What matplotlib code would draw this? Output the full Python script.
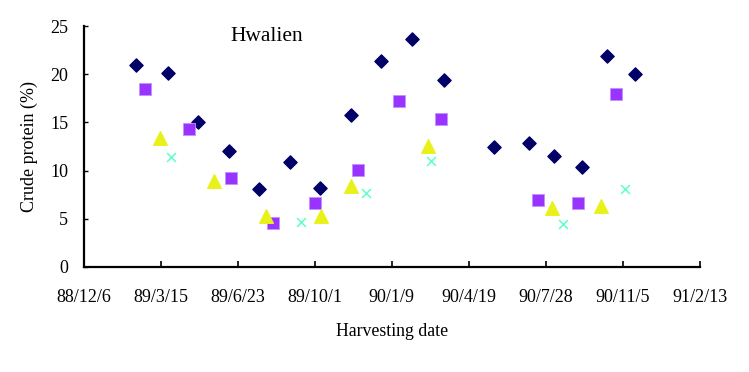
"""Crude protein of forage at Hwalien across harvesting dates (ROC calendar)."""
import matplotlib
matplotlib.use("Agg"); import matplotlib.pyplot as plt

# x = days after 88/12/6
tick_days = [0, 99, 198, 297, 396, 495, 594, 693, 792]
tick_labels = ['88/12/6', '89/3/15', '89/6/23', '89/10/1', '90/1/9',
               '90/4/19', '90/7/28', '90/11/5', '91/2/13']

dia_x = [68, 108, 147, 187, 225, 265, 304, 343, 382, 422, 463, 527, 572, 605, 640, 673, 709]
dia_y = [21.0, 20.1, 15.0, 12.0, 8.1, 10.9, 8.2, 15.8, 21.4, 23.7, 19.4, 12.4, 12.9, 11.5, 10.4, 21.9, 20.0]

sq_x = [79, 135, 190, 243, 298, 352, 405, 459, 584, 635, 684]
sq_y = [18.5, 14.3, 9.2, 4.6, 6.6, 10.1, 17.2, 15.4, 6.9, 6.6, 18.0]

tri_x = [98, 167, 235, 305, 343, 442, 602, 665]
tri_y = [13.4, 8.9, 5.3, 5.3, 8.4, 12.6, 6.1, 6.3]

crs_x = [112, 279, 363, 446, 616, 695]
crs_y = [11.4, 4.7, 7.7, 11.0, 4.5, 8.1]

plt.rcParams['font.family'] = ['Liberation Serif', 'DejaVu Serif']
fig = plt.figure(figsize=(7.49, 3.72), dpi=100)
ax = fig.add_axes([0.1115, 0.2823, 0.8231, 0.6477])

ax.scatter(dia_x, dia_y, marker='D', s=45, color='#000066', zorder=3)
ax.scatter(sq_x, sq_y, marker='s', s=85, color='#9933FF', edgecolor='#C490FF', lw=0.6, zorder=3)
ax.scatter(tri_x, tri_y, marker='^', s=95, color='#E8F21A', zorder=3)
ax.scatter(crs_x, crs_y, marker='x', s=40, color='#66FFCC', lw=1.2, zorder=3)

ax.set_xlim(0, 792)
ax.set_ylim(0, 25)
ax.set_xticks(tick_days)
ax.set_xticklabels(tick_labels)
ax.set_yticks([0, 5, 10, 15, 20, 25])
for s in ('top', 'right'):
    ax.spines[s].set_visible(False)
for s in ('left', 'bottom'):
    ax.spines[s].set_linewidth(1.6)
ax.tick_params(axis='x', direction='in', length=4, width=1.2, pad=16, labelsize=13)
ax.tick_params(axis='y', direction='in', length=3, width=1.0, pad=11, labelsize=13)
ax.set_xlabel('Harvesting date', fontsize=12.8, labelpad=12)
ax.set_ylabel('Crude protein (%)', fontsize=13, labelpad=9)
ax.text(0.2977, 0.958, 'Hwalien', transform=ax.transAxes, ha='center', va='center', fontsize=15.5)

plt.savefig("out.png", dpi=100)
